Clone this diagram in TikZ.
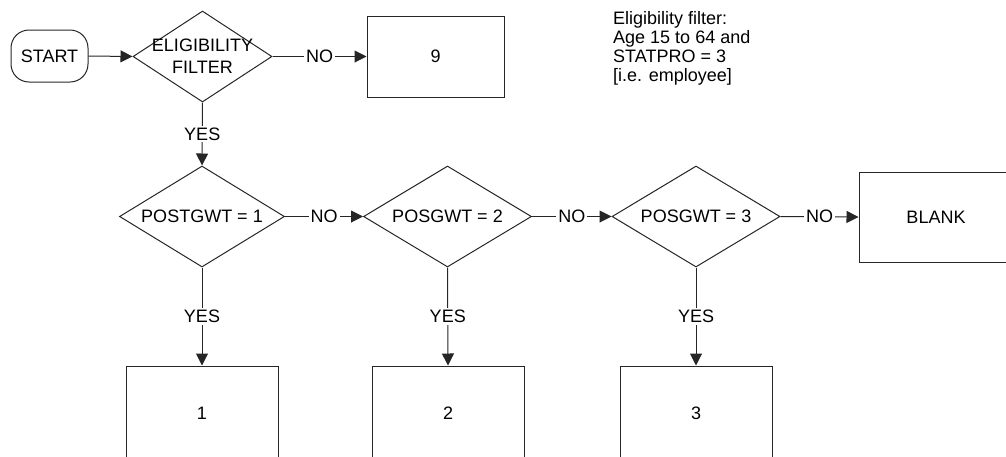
\documentclass[tikz,border=0pt]{standalone}
\usepackage{fontspec}
\setmainfont{Liberation Sans}
\usetikzlibrary{shapes.geometric,arrows.meta}
\tikzset{
  every node/.style={font=\fontsize{18}{19}\selectfont},
  ln/.style={draw=black!85, line width=1pt},
  arr/.style={ln, -{Triangle[length=12pt,width=12pt]}},
  dia/.style={ln, diamond, inner sep=0pt},
  boxnode/.style={ln, rectangle, inner sep=0pt},
  lbl/.style={midway, fill=white, inner sep=2pt},
}
\begin{document}
\begin{tikzpicture}[x=1pt,y=-1pt]
\useasboundingbox (0,0) rectangle (1006,456);
\clip (0,0) rectangle (1006,456);
% start
\node[ln, rectangle, rounded corners=18pt, minimum width=77pt, minimum height=52pt, inner sep=0pt] (start) at (49.5,56) {START};
% eligibility diamond
\node[dia, minimum width=139pt, minimum height=91pt] (elig) at (202.5,56.5) {};
\node[align=center, font=\fontsize{18}{22}\selectfont] (eligtxt) at (202.5,56.5) {ELIGIBILITY\\FILTER};
% box 9
\node[boxnode, minimum width=137pt, minimum height=81pt] (nine) at (435.5,56.5) {9};
% note
\node[anchor=north west, align=left, inner sep=0pt] (note) at (613,11) {Eligibility filter:\\Age 15 to 64 and\\STATPRO = 3\\{[}i.e. employee{]}};
% row 2 diamonds
\node[dia, minimum width=165pt, minimum height=101pt] (d1) at (202,216.5) {};
\node (d1t) at (202,216.5) {POSTGWT = 1};
\node[dia, minimum width=168pt, minimum height=101pt] (d2) at (447.5,216.5) {};
\node (d2t) at (447.5,216.5) {POSGWT = 2};
\node[dia, minimum width=168pt, minimum height=101pt] (d3) at (696,216.5) {};
\node (d3t) at (696,216.5) {POSGWT = 3};
% blank
\node[boxnode, minimum width=154pt, minimum height=90pt] (blank) at (936,217) {BLANK};
% bottom boxes
\node[boxnode, minimum width=152pt, minimum height=94pt] (b1) at (202,413) {1};
\node[boxnode, minimum width=152pt, minimum height=94pt] (b2) at (448,413) {2};
\node[boxnode, minimum width=152pt, minimum height=94pt] (b3) at (696,413) {3};
% connectors
\draw[arr] (start.east) -- (elig.west);
\draw[arr] (elig.east) -- node[lbl] {NO} (nine.west);
\draw[arr] (elig.south) -- node[lbl] {YES} (d1.north);
\draw[arr] (d1.east) -- node[lbl] {NO} (d2.west);
\draw[arr] (d2.east) -- node[lbl] {NO} (d3.west);
\draw[arr] (d3.east) -- node[lbl] {NO} (blank.west);
\draw[arr] (d1.south) -- node[lbl] {YES} (b1.north);
\draw[arr] (d2.south) -- node[lbl] {YES} (b2.north);
\draw[arr] (d3.south) -- node[lbl] {YES} (b3.north);
\end{tikzpicture}
\end{document}
